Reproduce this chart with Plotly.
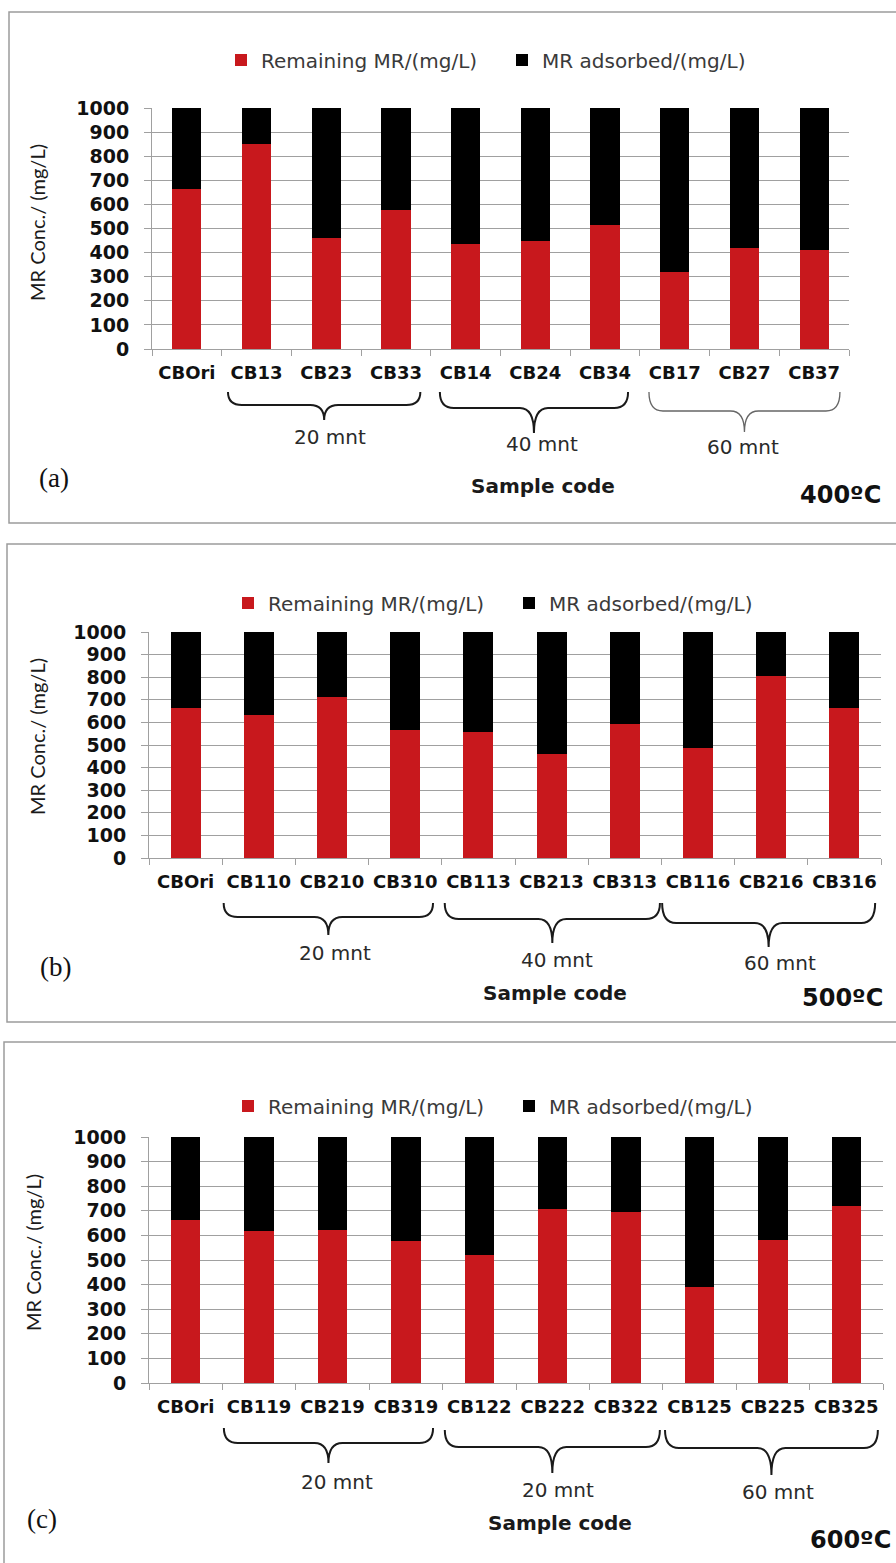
import plotly.graph_objects as go

# ---------------- data ----------------
categories_a = ["CBOri", "CB13", "CB23", "CB33", "CB14", "CB24", "CB34", "CB17", "CB27", "CB37"]
remaining_a = [665, 852, 462, 577, 437, 449, 514, 320, 419, 412]
adsorbed_a = [335, 148, 538, 423, 563, 551, 486, 680, 581, 588]

categories_b = ["CBOri", "CB110", "CB210", "CB310", "CB113", "CB213", "CB313", "CB116", "CB216", "CB316"]
remaining_b = [664, 631, 712, 565, 558, 459, 592, 488, 807, 662]
adsorbed_b = [336, 369, 288, 435, 442, 541, 408, 512, 193, 338]

categories_c = ["CBOri", "CB119", "CB219", "CB319", "CB122", "CB222", "CB322", "CB125", "CB225", "CB325"]
remaining_c = [661, 617, 621, 577, 521, 707, 696, 392, 581, 720]
adsorbed_c = [339, 383, 379, 423, 479, 293, 304, 608, 419, 280]

group_labels_a = ["20 mnt", "40 mnt", "60 mnt"]
group_labels_b = ["20 mnt", "40 mnt", "60 mnt"]
group_labels_c = ["20 mnt", "20 mnt", "60 mnt"]

temperatures = ["400ºC", "500ºC", "600ºC"]
panel_tags = ["(a)", "(b)", "(c)"]
y_tick_values = [0, 100, 200, 300, 400, 500, 600, 700, 800, 900, 1000]
series_names = ["Remaining MR/(mg/L)", "MR adsorbed/(mg/L)"]
y_title = "MR Conc./ (mg/L)"
x_title = "Sample code"

# ---------------- layout helpers ----------------
W, H = 896, 1563
RED = "#C8181D"
BLACK = "#000000"
GRID = "#A0A0A0"
BOX = "#9C9C9C"


def fx(p):
    return p / W


def fy(p):
    return 1 - p / H


panels = [
    dict(cats=categories_a, rem=remaining_a, ads=adsorbed_a, groups=group_labels_a,
         box=(9, 12, W + 12, 523), plot=(152, 849, 108, 349), leg=(221, 60), ytitle=(37, 223),
         brace_span=[(0.59, 3.35), (3.63, 6.33), (6.63, 9.37)],
         brace_top=[392, 392, 392], brace_mid=[405, 408, 411], brace_tip=[420, 433, 432],
         brace_style=[("#1a1a1a", 2), ("#1a1a1a", 2), ("#666666", 1.3)],
         glab_x=[330, 542, 743], glab_y=[437, 444, 447],
         xt=(543, 486), temp=(840, 495), tag=(54, 478), bw=0.42),
    dict(cats=categories_b, rem=remaining_b, ads=adsorbed_b, groups=group_labels_b,
         box=(7, 544, W + 12, 1022), plot=(149, 881, 632, 858), leg=(228, 603), ytitle=(37, 737),
         brace_span=[(0.52, 3.38), (3.54, 6.48), (6.51, 9.42)],
         brace_top=[903, 903, 903], brace_mid=[917, 919, 923], brace_tip=[935, 943, 947],
         brace_style=[("#1a1a1a", 2), ("#1a1a1a", 2), ("#1a1a1a", 2)],
         glab_x=[335, 557, 780], glab_y=[953, 960, 963],
         xt=(555, 993), temp=(842, 998), tag=(55, 967), bw=0.41),
    dict(cats=categories_c, rem=remaining_c, ads=adsorbed_c, groups=group_labels_c,
         box=(4, 1042, W + 12, H + 12), plot=(149, 883, 1137, 1383), leg=(228, 1106), ytitle=(33, 1253),
         brace_span=[(0.52, 3.37), (3.53, 6.46), (6.53, 9.43)],
         brace_top=[1428, 1430, 1430], brace_mid=[1443, 1447, 1448], brace_tip=[1463, 1473, 1475],
         brace_style=[("#1a1a1a", 2), ("#1a1a1a", 2), ("#1a1a1a", 2)],
         glab_x=[337, 558, 778], glab_y=[1482, 1490, 1492],
         xt=(560, 1523), temp=(850, 1540), tag=(42, 1519), bw=0.40),
]

fig = go.Figure()
shapes = []
annotations = []
layout_updates = {}

for k, p in enumerate(panels):
    sfx = "" if k == 0 else str(k + 1)
    xa, ya = "x" + sfx, "y" + sfx
    legname = "legend" + sfx
    left, right, top, bottom = p["plot"]

    fig.add_trace(go.Bar(x=p["cats"], y=p["rem"], name=series_names[0], marker_color=RED,
                         marker_line_width=0, width=p["bw"], xaxis=xa, yaxis=ya,
                         legend=legname))
    fig.add_trace(go.Bar(x=p["cats"], y=p["ads"], name=series_names[1], marker_color=BLACK,
                         marker_line_width=0, width=p["bw"], xaxis=xa, yaxis=ya,
                         legend=legname))

    layout_updates["xaxis" + sfx] = dict(
        domain=[fx(left), fx(right)], anchor=ya, type="category",
        range=[-0.5, len(p["cats"]) - 0.5], tickson="boundaries",
        ticks="outside", ticklen=6, tickcolor=GRID, tickwidth=1,
        showline=True, linecolor=GRID, linewidth=1, showgrid=False,
        tickangle=0, automargin=False,
        tickfont=dict(family="DejaVu Sans", size=18, color="#111111", weight="bold"),
        ticklabelstandoff=7, fixedrange=True,
    )
    layout_updates["yaxis" + sfx] = dict(
        domain=[fy(bottom), fy(top)], anchor=xa, range=[0, 1000],
        tickvals=y_tick_values, ticks="outside", ticklen=7, tickcolor=GRID,
        showline=True, linecolor=GRID, linewidth=1,
        showgrid=True, gridcolor=GRID, gridwidth=1, zeroline=False,
        automargin=False,
        tickfont=dict(family="DejaVu Sans", size=19, color="#111111", weight="bold"),
        ticklabelstandoff=11, fixedrange=True,
    )
    layout_updates[legname] = dict(
        orientation="h", x=fx(p["leg"][0]), y=fy(p["leg"][1]), xanchor="left", yanchor="middle",
        entrywidth=236, entrywidthmode="pixels", bgcolor="rgba(0,0,0,0)", borderwidth=0,
        font=dict(family="DejaVu Sans", size=20, color="#3a3a3a"), traceorder="normal",
        itemclick=False, itemdoubleclick=False,
    )

    # panel frame
    bx0, by0, bx1, by1 = p["box"]
    shapes.append(dict(type="rect", xref="paper", yref="paper", x0=fx(bx0), x1=fx(bx1),
                       y0=fy(by1), y1=fy(by0), line=dict(color=BOX, width=1.5),
                       fillcolor="rgba(0,0,0,0)", layer="below"))

    # braces grouping the sample codes (positions from category index scale)
    catw = (right - left) / len(p["cats"])

    def cat_px(v):
        return left + (v + 0.5) * catw

    for j, (s0, s1) in enumerate(p["brace_span"]):
        xL, xR = cat_px(s0), cat_px(s1)
        xC = (xL + xR) / 2
        yt, ym, yb = p["brace_top"][j], p["brace_mid"][j], p["brace_tip"][j]
        r = 14
        pts = (
            f"M {fx(xL)},{fy(yt)} Q {fx(xL)},{fy(ym)} {fx(xL + r)},{fy(ym)} "
            f"L {fx(xC - r)},{fy(ym)} Q {fx(xC)},{fy(ym)} {fx(xC)},{fy(yb)} "
            f"Q {fx(xC)},{fy(ym)} {fx(xC + r)},{fy(ym)} "
            f"L {fx(xR - r)},{fy(ym)} Q {fx(xR)},{fy(ym)} {fx(xR)},{fy(yt)}"
        )
        col, wd = p["brace_style"][j]
        shapes.append(dict(type="path", xref="paper", yref="paper", path=pts,
                           line=dict(color=col, width=wd)))
        annotations.append(dict(text=p["groups"][j], xref="paper", yref="paper",
                                x=fx(p["glab_x"][j]), y=fy(p["glab_y"][j]),
                                xanchor="center", yanchor="middle", showarrow=False,
                                font=dict(family="DejaVu Sans", size=20, color="#2a2a2a")))

    # y title
    annotations.append(dict(text=y_title, xref="paper", yref="paper",
                            x=fx(p["ytitle"][0]), y=fy(p["ytitle"][1]), textangle=-90,
                            xanchor="center", yanchor="middle", showarrow=False,
                            font=dict(family="Lato", size=20, color="#1a1a1a")))
    # x title
    annotations.append(dict(text="<b>" + x_title + "</b>", xref="paper", yref="paper",
                            x=fx(p["xt"][0]), y=fy(p["xt"][1]),
                            xanchor="center", yanchor="middle", showarrow=False,
                            font=dict(family="DejaVu Sans", size=20, color="#1a1a1a")))
    # temperature
    annotations.append(dict(text="<b>" + temperatures[k] + "</b>", xref="paper", yref="paper",
                            x=fx(p["temp"][0]), y=fy(p["temp"][1]),
                            xanchor="center", yanchor="middle", showarrow=False,
                            font=dict(family="DejaVu Sans", size=24, color="#111111")))
    # panel tag
    annotations.append(dict(text=panel_tags[k], xref="paper", yref="paper",
                            x=fx(p["tag"][0]), y=fy(p["tag"][1]),
                            xanchor="center", yanchor="middle", showarrow=False,
                            font=dict(family="Liberation Serif", size=27, color="#111111")))

fig.update_layout(
    width=W, height=H, margin=dict(l=0, r=0, t=0, b=0, autoexpand=False),
    paper_bgcolor="white", plot_bgcolor="white",
    barmode="stack", showlegend=True,
    shapes=shapes, annotations=annotations,
    **layout_updates,
)

fig.write_html("out.html")
